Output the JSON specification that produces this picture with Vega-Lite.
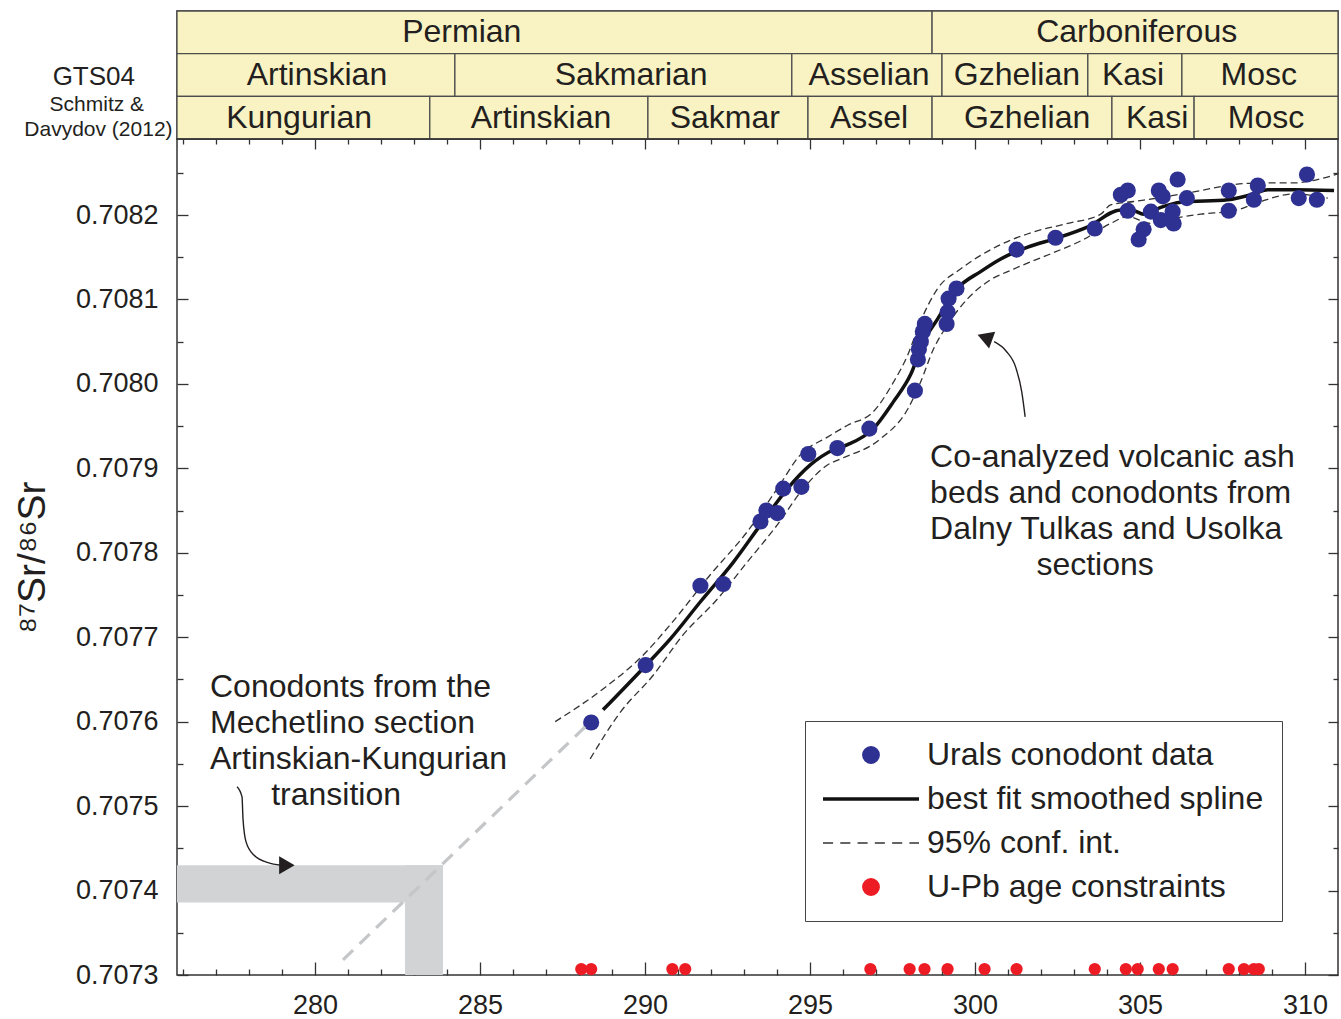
{
  "$schema": "https://vega.github.io/schema/vega-lite/v6.json",
  "padding": {"left": 12, "top": 9, "right": 0, "bottom": 0},
  "bounds": "flush",
  "spacing": 0,
  "resolve": {"scale": {"color": "independent"}, "legend": {"color": "independent"}},
  "config": {
    "font": "Liberation Sans",
    "view": {"stroke": "#333333", "strokeWidth": 1.5},
    "axis": {"labelFont": "Liberation Sans", "titleFont": "Liberation Sans", "labelColor": "#231f20", "titleColor": "#231f20", "tickColor": "#333333", "tickWidth": 1.3, "grid": false, "domain": false, "labelFlush": false},
    "text": {"font": "Liberation Sans", "color": "#231f20"}
  },
  "datasets": {
    "periods": [
      {"row": "p", "name": "Permian", "start": 275.82, "end": 298.70, "label_age": 284.45},
      {"row": "p", "name": "Carboniferous", "start": 298.70, "end": 311.0, "label_age": 304.9},
      {"row": "g", "name": "Artinskian", "start": 275.82, "end": 284.24, "label_age": 280.06},
      {"row": "g", "name": "Sakmarian", "start": 284.24, "end": 294.45, "label_age": 289.58},
      {"row": "g", "name": "Asselian", "start": 294.45, "end": 299.0, "label_age": 296.79},
      {"row": "g", "name": "Gzhelian", "start": 299.0, "end": 303.42, "label_age": 301.27},
      {"row": "g", "name": "Kasi", "start": 303.42, "end": 306.27, "label_age": 304.79},
      {"row": "g", "name": "Mosc", "start": 306.27, "end": 311.0, "label_age": 308.6},
      {"row": "s", "name": "Kungurian", "start": 275.82, "end": 283.48, "label_age": 279.52},
      {"row": "s", "name": "Artinskian", "start": 283.48, "end": 290.09, "label_age": 286.85},
      {"row": "s", "name": "Sakmar", "start": 290.09, "end": 294.94, "label_age": 292.42},
      {"row": "s", "name": "Assel", "start": 294.94, "end": 298.70, "label_age": 296.79},
      {"row": "s", "name": "Gzhelian", "start": 298.70, "end": 304.15, "label_age": 301.58},
      {"row": "s", "name": "Kasi", "start": 304.15, "end": 306.64, "label_age": 305.52},
      {"row": "s", "name": "Mosc", "start": 306.64, "end": 311.0, "label_age": 308.82}
    ],
    "sideBig": [
      {"label": "GTS04", "age": 273.30, "pos": 1.55}
    ],
    "sideSmall": [
      {"label": "Schmitz &", "age": 273.39, "pos": 2.2},
      {"label": "Davydov (2012)", "age": 273.44, "pos": 2.79}
    ],
    "blue": [
      {"age": 288.37, "sr": 0.707599},
      {"age": 290.02, "sr": 0.707667},
      {"age": 291.68, "sr": 0.707761},
      {"age": 292.37, "sr": 0.707763},
      {"age": 293.50, "sr": 0.707837},
      {"age": 293.68, "sr": 0.70785},
      {"age": 294.01, "sr": 0.707847},
      {"age": 294.19, "sr": 0.707876},
      {"age": 294.74, "sr": 0.707878},
      {"age": 294.95, "sr": 0.707917},
      {"age": 295.83, "sr": 0.707924},
      {"age": 296.80, "sr": 0.707947},
      {"age": 298.18, "sr": 0.707992},
      {"age": 298.27, "sr": 0.708029},
      {"age": 298.30, "sr": 0.708041},
      {"age": 298.36, "sr": 0.70805},
      {"age": 298.42, "sr": 0.708062},
      {"age": 298.48, "sr": 0.708071},
      {"age": 299.14, "sr": 0.708071},
      {"age": 299.17, "sr": 0.708085},
      {"age": 299.20, "sr": 0.708101},
      {"age": 299.44, "sr": 0.708113},
      {"age": 301.26, "sr": 0.708159},
      {"age": 302.44, "sr": 0.708173},
      {"age": 303.63, "sr": 0.708184},
      {"age": 304.42, "sr": 0.708224},
      {"age": 304.63, "sr": 0.708229},
      {"age": 304.63, "sr": 0.708205},
      {"age": 304.96, "sr": 0.708171},
      {"age": 305.11, "sr": 0.708183},
      {"age": 305.33, "sr": 0.708204},
      {"age": 305.57, "sr": 0.708229},
      {"age": 305.69, "sr": 0.708222},
      {"age": 305.63, "sr": 0.708194},
      {"age": 306.02, "sr": 0.70819},
      {"age": 305.99, "sr": 0.708204},
      {"age": 306.14, "sr": 0.708242},
      {"age": 306.42, "sr": 0.70822},
      {"age": 307.69, "sr": 0.708229},
      {"age": 307.69, "sr": 0.708205},
      {"age": 308.57, "sr": 0.708235},
      {"age": 308.45, "sr": 0.708218},
      {"age": 310.06, "sr": 0.708248},
      {"age": 309.81, "sr": 0.70822},
      {"age": 310.36, "sr": 0.708218}
    ],
    "red": [
      {"age": 288.07}, {"age": 288.37}, {"age": 290.83}, {"age": 291.22}, {"age": 296.83},
      {"age": 298.02}, {"age": 298.47}, {"age": 299.17}, {"age": 300.29}, {"age": 301.26},
      {"age": 303.63}, {"age": 304.57}, {"age": 304.93}, {"age": 305.57}, {"age": 305.99},
      {"age": 307.69}, {"age": 308.15}, {"age": 308.45}, {"age": 308.60}
    ],
    "curves": [
      {"curve": "fit", "age": 288.73, "sr": 0.707614},
      {"curve": "fit", "age": 290.01, "sr": 0.707666},
      {"curve": "fit", "age": 290.77, "sr": 0.707698},
      {"curve": "fit", "age": 291.68, "sr": 0.707742},
      {"curve": "fit", "age": 292.68, "sr": 0.707789},
      {"curve": "fit", "age": 293.50, "sr": 0.707833},
      {"curve": "fit", "age": 294.32, "sr": 0.707876},
      {"curve": "fit", "age": 295.01, "sr": 0.707904},
      {"curve": "fit", "age": 295.71, "sr": 0.707922},
      {"curve": "fit", "age": 296.14, "sr": 0.707928},
      {"curve": "fit", "age": 296.92, "sr": 0.707947},
      {"curve": "fit", "age": 297.53, "sr": 0.707979},
      {"curve": "fit", "age": 298.05, "sr": 0.708011},
      {"curve": "fit", "age": 298.44, "sr": 0.70805},
      {"curve": "fit", "age": 298.87, "sr": 0.708077},
      {"curve": "fit", "age": 299.47, "sr": 0.708113},
      {"curve": "fit", "age": 300.17, "sr": 0.708133},
      {"curve": "fit", "age": 300.78, "sr": 0.708148},
      {"curve": "fit", "age": 301.60, "sr": 0.708162},
      {"curve": "fit", "age": 302.51, "sr": 0.708173},
      {"curve": "fit", "age": 303.42, "sr": 0.708186},
      {"curve": "fit", "age": 304.42, "sr": 0.708206},
      {"curve": "fit", "age": 304.81, "sr": 0.708205},
      {"curve": "fit", "age": 305.11, "sr": 0.708201},
      {"curve": "fit", "age": 305.63, "sr": 0.708209},
      {"curve": "fit", "age": 306.24, "sr": 0.708215},
      {"curve": "fit", "age": 307.66, "sr": 0.708218},
      {"curve": "fit", "age": 308.45, "sr": 0.708225},
      {"curve": "fit", "age": 308.87, "sr": 0.70823},
      {"curve": "fit", "age": 309.66, "sr": 0.70823},
      {"curve": "fit", "age": 310.88, "sr": 0.708229},
      {"curve": "upper", "age": 287.28, "sr": 0.7076},
      {"curve": "upper", "age": 288.74, "sr": 0.707639},
      {"curve": "upper", "age": 289.95, "sr": 0.707679},
      {"curve": "upper", "age": 290.77, "sr": 0.707715},
      {"curve": "upper", "age": 291.98, "sr": 0.707774},
      {"curve": "upper", "age": 293.10, "sr": 0.707825},
      {"curve": "upper", "age": 294.01, "sr": 0.707876},
      {"curve": "upper", "age": 294.71, "sr": 0.707916},
      {"curve": "upper", "age": 295.53, "sr": 0.707937},
      {"curve": "upper", "age": 296.14, "sr": 0.707951},
      {"curve": "upper", "age": 296.92, "sr": 0.707967},
      {"curve": "upper", "age": 297.53, "sr": 0.708002},
      {"curve": "upper", "age": 297.96, "sr": 0.708034},
      {"curve": "upper", "age": 298.35, "sr": 0.708074},
      {"curve": "upper", "age": 298.87, "sr": 0.708113},
      {"curve": "upper", "age": 299.56, "sr": 0.708136},
      {"curve": "upper", "age": 300.78, "sr": 0.708165},
      {"curve": "upper", "age": 301.78, "sr": 0.70818},
      {"curve": "upper", "age": 302.81, "sr": 0.70819},
      {"curve": "upper", "age": 303.81, "sr": 0.708201},
      {"curve": "upper", "age": 304.11, "sr": 0.708212},
      {"curve": "upper", "age": 304.81, "sr": 0.708216},
      {"curve": "upper", "age": 305.84, "sr": 0.708222},
      {"curve": "upper", "age": 306.84, "sr": 0.708229},
      {"curve": "upper", "age": 307.84, "sr": 0.708236},
      {"curve": "upper", "age": 308.66, "sr": 0.708238},
      {"curve": "upper", "age": 309.66, "sr": 0.708238},
      {"curve": "upper", "age": 310.48, "sr": 0.708243},
      {"curve": "upper", "age": 311.03, "sr": 0.708249},
      {"curve": "lower", "age": 288.34, "sr": 0.707556},
      {"curve": "lower", "age": 289.25, "sr": 0.707611},
      {"curve": "lower", "age": 290.25, "sr": 0.707655},
      {"curve": "lower", "age": 291.16, "sr": 0.707703},
      {"curve": "lower", "age": 292.19, "sr": 0.707745},
      {"curve": "lower", "age": 293.10, "sr": 0.707789},
      {"curve": "lower", "age": 294.01, "sr": 0.707833},
      {"curve": "lower", "age": 294.80, "sr": 0.707876},
      {"curve": "lower", "age": 295.53, "sr": 0.707904},
      {"curve": "lower", "age": 295.92, "sr": 0.707911},
      {"curve": "lower", "age": 297.14, "sr": 0.707935},
      {"curve": "lower", "age": 297.96, "sr": 0.70797},
      {"curve": "lower", "age": 298.35, "sr": 0.708002},
      {"curve": "lower", "age": 298.74, "sr": 0.708041},
      {"curve": "lower", "age": 299.17, "sr": 0.70807},
      {"curve": "lower", "age": 299.78, "sr": 0.708101},
      {"curve": "lower", "age": 300.38, "sr": 0.708121},
      {"curve": "lower", "age": 301.17, "sr": 0.708136},
      {"curve": "lower", "age": 302.29, "sr": 0.708154},
      {"curve": "lower", "age": 303.29, "sr": 0.708171},
      {"curve": "lower", "age": 304.11, "sr": 0.70819},
      {"curve": "lower", "age": 304.63, "sr": 0.708198},
      {"curve": "lower", "age": 305.33, "sr": 0.70819},
      {"curve": "lower", "age": 306.02, "sr": 0.708196},
      {"curve": "lower", "age": 306.84, "sr": 0.708201},
      {"curve": "lower", "age": 307.84, "sr": 0.708205},
      {"curve": "lower", "age": 308.66, "sr": 0.708216},
      {"curve": "lower", "age": 309.66, "sr": 0.708225},
      {"curve": "lower", "age": 310.69, "sr": 0.70822}
    ],
    "shade": [
      {"a0": 275.82, "a1": 283.88, "s0": 0.707386, "s1": 0.70743},
      {"a0": 282.73, "a1": 283.88, "s0": 0.7073, "s1": 0.70743}
    ],
    "guide": [
      {"age": 280.85, "sr": 0.707318},
      {"age": 288.27, "sr": 0.707597}
    ],
    "notesL": [
      {"text": "Co-analyzed volcanic ash", "age": 298.64, "sr": 0.707913},
      {"text": "beds and conodonts from", "age": 298.64, "sr": 0.707871},
      {"text": "Dalny Tulkas and Usolka", "age": 298.64, "sr": 0.707828},
      {"text": "Conodonts from the", "age": 276.82, "sr": 0.707641},
      {"text": "Mechetlino section", "age": 276.82, "sr": 0.707598},
      {"text": "Artinskian-Kungurian", "age": 276.82, "sr": 0.707556}
    ],
    "notesC": [
      {"text": "sections", "age": 303.64, "sr": 0.707786},
      {"text": "transition", "age": 280.64, "sr": 0.707513}
    ],
    "arrows": [
      {"id": "a", "age": 277.64, "sr": 0.707523},
      {"id": "a", "age": 277.79, "sr": 0.707511},
      {"id": "a", "age": 277.82, "sr": 0.707485},
      {"id": "a", "age": 277.91, "sr": 0.707458},
      {"id": "a", "age": 278.15, "sr": 0.707442},
      {"id": "a", "age": 278.58, "sr": 0.707433},
      {"id": "a", "age": 278.97, "sr": 0.70743},
      {"id": "b", "age": 301.52, "sr": 0.707961},
      {"id": "b", "age": 301.42, "sr": 0.70799},
      {"id": "b", "age": 301.24, "sr": 0.708019},
      {"id": "b", "age": 300.94, "sr": 0.708039},
      {"id": "b", "age": 300.58, "sr": 0.70805}
    ],
    "heads": [
      {"id": "a", "age": 279.15, "sr": 0.70743},
      {"id": "b", "age": 300.3, "sr": 0.708055}
    ]
  },
  "vconcat": [
    {
      "width": 1161,
      "height": 128,
      "resolve": {"scale": {"y": "independent"}},
      "layer": [
        {
          "data": {"name": "periods"},
          "mark": {"type": "rect", "fill": "#f9f3c3", "stroke": "#4d4d4d", "strokeWidth": 1.3},
          "encoding": {
            "x": {"field": "start", "type": "quantitative", "scale": {"domain": [275.82, 311.0], "nice": false, "zero": false}, "axis": null},
            "x2": {"field": "end"},
            "y": {"field": "row", "type": "nominal", "scale": {"domain": ["p", "g", "s"], "paddingInner": 0, "paddingOuter": 0}, "axis": null}
          }
        },
        {
          "data": {"name": "periods"},
          "mark": {"type": "text", "fontSize": 32, "align": "center", "baseline": "middle"},
          "encoding": {
            "x": {"field": "label_age", "type": "quantitative", "scale": {"domain": [275.82, 311.0], "nice": false, "zero": false}, "axis": null},
            "y": {"field": "row", "type": "nominal", "scale": {"domain": ["p", "g", "s"], "paddingInner": 0, "paddingOuter": 0}, "axis": null},
            "text": {"field": "name"}
          }
        },
        {
          "data": {"name": "sideBig"},
          "mark": {"type": "text", "fontSize": 26, "align": "center", "baseline": "middle"},
          "encoding": {
            "x": {"field": "age", "type": "quantitative", "scale": {"domain": [275.82, 311.0], "nice": false, "zero": false}, "axis": null},
            "y": {"field": "pos", "type": "quantitative", "scale": {"domain": [0, 3], "nice": false, "zero": false, "reverse": true}, "axis": null},
            "text": {"field": "label"}
          }
        },
        {
          "data": {"name": "sideSmall"},
          "mark": {"type": "text", "fontSize": 21, "align": "center", "baseline": "middle"},
          "encoding": {
            "x": {"field": "age", "type": "quantitative", "scale": {"domain": [275.82, 311.0], "nice": false, "zero": false}, "axis": null},
            "y": {"field": "pos", "type": "quantitative", "scale": {"domain": [0, 3], "nice": false, "zero": false, "reverse": true}, "axis": null},
            "text": {"field": "label"}
          }
        }
      ]
    },
    {
      "width": 1161,
      "height": 836,
      "resolve": {"axis": {"x": "independent", "y": "independent"}},
      "layer": [
        {
          "data": {"name": "shade"},
          "mark": {"type": "rect", "fill": "#d1d3d4"},
          "encoding": {
            "x": {"field": "a0", "type": "quantitative", "scale": {"domain": [275.82, 311.0], "nice": false, "zero": false},
              "axis": {"orient": "bottom", "values": [280, 285, 290, 295, 300, 305, 310], "format": "d", "tickSize": -13, "labelPadding": 30, "labelFontSize": 27, "title": null}},
            "x2": {"field": "a1"},
            "y": {"field": "s0", "type": "quantitative", "scale": {"domain": [0.7073, 0.70829], "nice": false, "zero": false},
              "axis": {"orient": "left", "values": [0.7073, 0.7074, 0.7075, 0.7076, 0.7077, 0.7078, 0.7079, 0.708, 0.7081, 0.7082], "format": ".4f", "tickSize": -11, "labelPadding": 30, "labelFontSize": 27,
                "title": "⁸⁷Sr/⁸⁶Sr", "titleFontSize": 39, "titleFontWeight": "normal", "titlePadding": 23}},
            "y2": {"field": "s1"}
          }
        },
        {
          "data": {"name": "curves"},
          "transform": [{"filter": "datum.curve != 'fit'"}],
          "mark": {"type": "line", "strokeWidth": 1.3, "strokeDash": [7, 4], "interpolate": "monotone", "clip": true},
          "encoding": {
            "x": {"field": "age", "type": "quantitative", "scale": {"domain": [275.82, 311.0], "nice": false, "zero": false},
              "axis": {"orient": "top", "values": [280, 285, 290, 295, 300, 305, 310], "tickSize": -10, "labels": false, "title": null}},
            "y": {"field": "sr", "type": "quantitative", "scale": {"domain": [0.7073, 0.70829], "nice": false, "zero": false},
              "axis": {"orient": "right", "values": [0.7073, 0.7074, 0.7075, 0.7076, 0.7077, 0.7078, 0.7079, 0.708, 0.7081, 0.7082], "tickSize": -10, "labels": false, "title": null}},
            "detail": {"field": "curve"},
            "color": {"datum": "95% conf. int.", "type": "nominal",
              "scale": {"domain": ["Urals conodont data", "best fit smoothed spline", "95% conf. int.", "U-Pb age constraints"], "range": ["#2e3192", "#111111", "#333333", "#ed1c24"]},
              "legend": {"title": null, "orient": "none", "legendX": 628, "legendY": 582, "fillColor": "white", "strokeColor": "#444444", "padding": 18,
                "labelFontSize": 32, "labelFont": "Liberation Sans", "labelColor": "#231f20", "labelOffset": 40, "labelLimit": 0,
                "symbolSize": 9216, "symbolOffset": 32, "rowPadding": 12,
                "encode": {"symbols": {"update": {
                  "shape": {"signal": "datum.value == 'best fit smoothed spline' ? 'M-1,0H1' : datum.value == '95% conf. int.' ? 'M-1,0H-0.79M-0.64,0H-0.43M-0.28,0H-0.07M0.08,0H0.29M0.44,0H0.65M0.8,0H1' : 'M-0.17,0A0.17,0.17,0,1,0,0.17,0A0.17,0.17,0,1,0,-0.17,0Z'"},
                  "fill": {"signal": "datum.value == 'Urals conodont data' ? '#2e3192' : datum.value == 'U-Pb age constraints' ? '#ed1c24' : 'transparent'"},
                  "stroke": {"signal": "datum.value == 'best fit smoothed spline' ? '#111111' : datum.value == '95% conf. int.' ? '#333333' : 'transparent'"},
                  "strokeWidth": {"signal": "datum.value == 'best fit smoothed spline' ? 3.5 : 1.5"},
                  "strokeDash": {"value": []},
                  "opacity": {"value": 1}
                }}}}
            }
          }
        },
        {
          "data": {"name": "curves"},
          "transform": [{"filter": "datum.curve == 'fit'"}],
          "mark": {"type": "line", "strokeWidth": 3.5, "interpolate": "monotone", "clip": true},
          "encoding": {
            "x": {"field": "age", "type": "quantitative", "scale": {"domain": [275.82, 311.0], "nice": false, "zero": false},
              "axis": {"orient": "top", "values": [276, 277, 278, 279, 281, 282, 283, 284, 286, 287, 288, 289, 291, 292, 293, 294, 296, 297, 298, 299, 301, 302, 303, 304, 306, 307, 308, 309], "tickSize": -5, "labels": false, "title": null}},
            "y": {"field": "sr", "type": "quantitative", "scale": {"domain": [0.7073, 0.70829], "nice": false, "zero": false},
              "axis": {"orient": "right", "values": [0.70735, 0.70745, 0.70755, 0.70765, 0.70775, 0.70785, 0.70795, 0.70805, 0.70815, 0.70825], "tickSize": -5, "labels": false, "title": null}},
            "color": {"datum": "best fit smoothed spline", "type": "nominal",
              "scale": {"domain": ["Urals conodont data", "best fit smoothed spline", "95% conf. int.", "U-Pb age constraints"], "range": ["#2e3192", "#111111", "#333333", "#ed1c24"]}}
          }
        },
        {
          "data": {"name": "blue"},
          "mark": {"type": "point", "filled": true, "opacity": 1, "size": 260},
          "encoding": {
            "x": {"field": "age", "type": "quantitative", "scale": {"domain": [275.82, 311.0], "nice": false, "zero": false},
              "axis": {"orient": "bottom", "values": [276, 277, 278, 279, 281, 282, 283, 284, 286, 287, 288, 289, 291, 292, 293, 294, 296, 297, 298, 299, 301, 302, 303, 304, 306, 307, 308, 309], "tickSize": -6, "labels": false, "title": null}},
            "y": {"field": "sr", "type": "quantitative", "scale": {"domain": [0.7073, 0.70829], "nice": false, "zero": false},
              "axis": {"orient": "left", "values": [0.70735, 0.70745, 0.70755, 0.70765, 0.70775, 0.70785, 0.70795, 0.70805, 0.70815, 0.70825], "tickSize": -6, "labels": false, "title": null}},
            "color": {"datum": "Urals conodont data", "type": "nominal",
              "scale": {"domain": ["Urals conodont data", "best fit smoothed spline", "95% conf. int.", "U-Pb age constraints"], "range": ["#2e3192", "#111111", "#333333", "#ed1c24"]}}
          }
        },
        {
          "data": {"name": "guide"},
          "mark": {"type": "line", "color": "#c4c6c8", "strokeWidth": 3.2, "strokeDash": [14, 9]},
          "encoding": {
            "x": {"field": "age", "type": "quantitative", "scale": {"domain": [275.82, 311.0], "nice": false, "zero": false}, "axis": null},
            "y": {"field": "sr", "type": "quantitative", "scale": {"domain": [0.7073, 0.70829], "nice": false, "zero": false}, "axis": null}
          }
        },
        {
          "data": {"name": "red"},
          "mark": {"type": "point", "filled": true, "opacity": 1, "size": 150},
          "encoding": {
            "x": {"field": "age", "type": "quantitative", "scale": {"domain": [275.82, 311.0], "nice": false, "zero": false}, "axis": null},
            "y": {"datum": 0.707307, "type": "quantitative", "scale": {"domain": [0.7073, 0.70829], "nice": false, "zero": false}, "axis": null},
            "color": {"datum": "U-Pb age constraints", "type": "nominal",
              "scale": {"domain": ["Urals conodont data", "best fit smoothed spline", "95% conf. int.", "U-Pb age constraints"], "range": ["#2e3192", "#111111", "#333333", "#ed1c24"]}}
          }
        },
        {
          "data": {"name": "notesL"},
          "mark": {"type": "text", "fontSize": 32, "align": "left", "baseline": "middle"},
          "encoding": {
            "x": {"field": "age", "type": "quantitative", "scale": {"domain": [275.82, 311.0], "nice": false, "zero": false}, "axis": null},
            "y": {"field": "sr", "type": "quantitative", "scale": {"domain": [0.7073, 0.70829], "nice": false, "zero": false}, "axis": null},
            "text": {"field": "text"}
          }
        },
        {
          "data": {"name": "notesC"},
          "mark": {"type": "text", "fontSize": 32, "align": "center", "baseline": "middle"},
          "encoding": {
            "x": {"field": "age", "type": "quantitative", "scale": {"domain": [275.82, 311.0], "nice": false, "zero": false}, "axis": null},
            "y": {"field": "sr", "type": "quantitative", "scale": {"domain": [0.7073, 0.70829], "nice": false, "zero": false}, "axis": null},
            "text": {"field": "text"}
          }
        },
        {
          "data": {"name": "arrows"},
          "mark": {"type": "line", "color": "#231f20", "strokeWidth": 1.4, "interpolate": "monotone"},
          "encoding": {
            "x": {"field": "age", "type": "quantitative", "scale": {"domain": [275.82, 311.0], "nice": false, "zero": false}, "axis": null},
            "y": {"field": "sr", "type": "quantitative", "scale": {"domain": [0.7073, 0.70829], "nice": false, "zero": false}, "axis": null},
            "detail": {"field": "id"}
          }
        },
        {
          "data": {"name": "heads"},
          "transform": [{"filter": "datum.id == 'a'"}],
          "mark": {"type": "point", "shape": "triangle-right", "filled": true, "opacity": 1, "color": "#231f20", "size": 320},
          "encoding": {
            "x": {"field": "age", "type": "quantitative", "scale": {"domain": [275.82, 311.0], "nice": false, "zero": false}, "axis": null},
            "y": {"field": "sr", "type": "quantitative", "scale": {"domain": [0.7073, 0.70829], "nice": false, "zero": false}, "axis": null}
          }
        },
        {
          "data": {"name": "heads"},
          "transform": [{"filter": "datum.id == 'b'"}],
          "mark": {"type": "point", "shape": "triangle-left", "angle": 20, "filled": true, "opacity": 1, "color": "#231f20", "size": 320},
          "encoding": {
            "x": {"field": "age", "type": "quantitative", "scale": {"domain": [275.82, 311.0], "nice": false, "zero": false}, "axis": null},
            "y": {"field": "sr", "type": "quantitative", "scale": {"domain": [0.7073, 0.70829], "nice": false, "zero": false}, "axis": null}
          }
        }
      ]
    }
  ]
}
